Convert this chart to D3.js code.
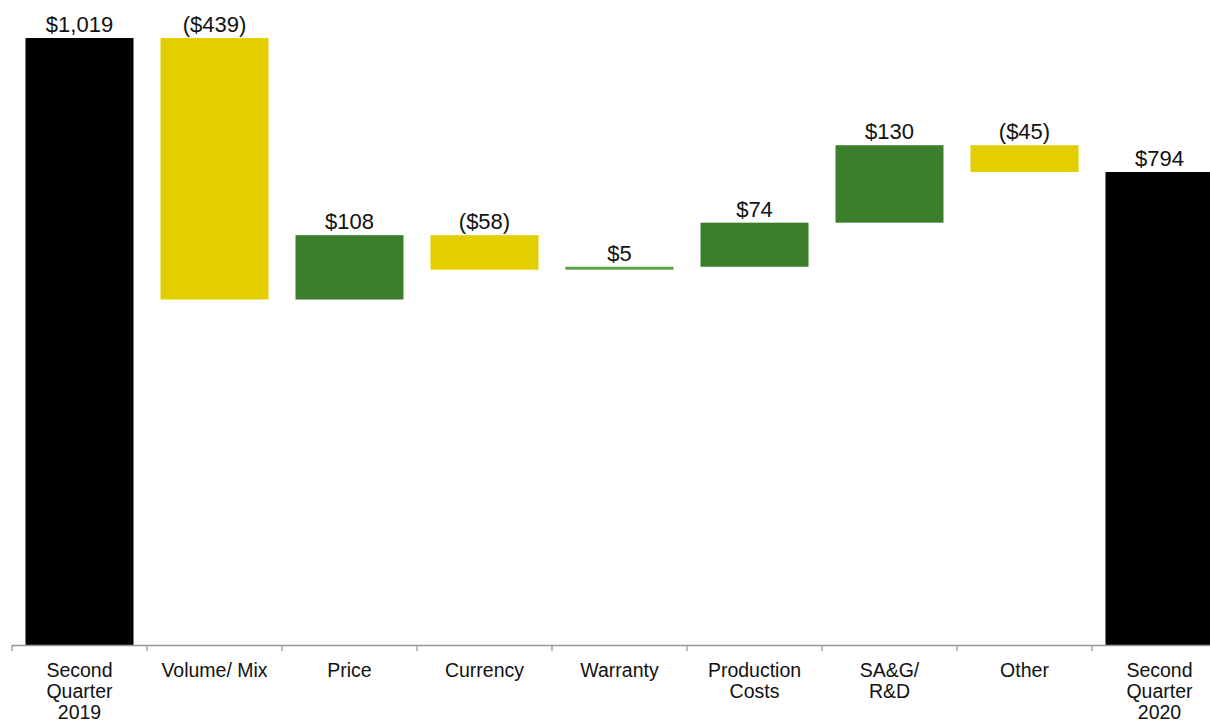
<!DOCTYPE html>
<html lang="en">
<head>
	<meta charset="UTF-8">
	<title>Waterfall</title>
	<script src="https://d3js.org/d3.v7.min.js"></script>
	<style>
		body { margin: 0; background: #fff; }
		svg { display: block; font-family: "Liberation Sans", Arial, sans-serif; }
	</style>
</head>
<body>
	<svg width="1210" height="723"></svg>
	<script>
		// data
		const categories = [
			["Second", "Quarter", "2019"],
			["Volume/ Mix"],
			["Price"],
			["Currency"],
			["Warranty"],
			["Production", "Costs"],
			["SA&G/", "R&D"],
			["Other"],
			["Second", "Quarter", "2020"]
		];
		const changes = [1019, -439, 108, -58, 5, 74, 130, -45, 794];
		const barTypes = ["total", "delta", "delta", "delta", "delta", "delta", "delta", "delta", "total"];
		const valueLabels = ["$1,019", "($439)", "$108", "($58)", "$5", "$74", "$130", "($45)", "$794"];

		const svg = d3.select("svg");
		const baseY = 645;

		// running totals -> start / end of each bar
		let running = 0;
		const bars = changes.map((v, i) => {
			let start, end;
			if (barTypes[i] == "total") {
				start = 0; end = v; running = v;
			} else {
				start = running; end = running + v; running = end;
			}
			return { i, v, start, end, type: barTypes[i], label: valueLabels[i], cat: categories[i] };
		});

		const xScale = d3.scaleBand()
			.domain(d3.range(categories.length))
			.range([12, 1227])
			.paddingInner(0.2)
			.paddingOuter(0.1);

		const yScale = d3.scaleLinear()
			.domain([0, 1019])
			.range([baseY, 38]);

		const color = d => {
			if (d.type == "total") return "#000000";
			return d.v < 0 ? "#E3CF00" : "#3B7E2C";
		};

		svg.selectAll("rect.bar")
			.data(bars)
			.enter().append("rect")
			.attr("class", "bar")
			.attr("x", d => xScale(d.i))
			.attr("width", xScale.bandwidth())
			.attr("y", d => yScale(Math.max(d.start, d.end)))
			.attr("height", d => Math.abs(yScale(d.start) - yScale(d.end)))
			.attr("fill", d => d.i == 4 ? "#5fa04a" : color(d));

		svg.selectAll("text.val")
			.data(bars)
			.enter().append("text")
			.attr("class", "val")
			.attr("x", d => xScale(d.i) + xScale.bandwidth() / 2)
			.attr("y", d => yScale(Math.max(d.start, d.end)) - 6)
			.attr("text-anchor", "middle")
			.attr("fill", "#111")
			.style("font-size", "22px")
			.text(d => d.label);

		// axis
		const step = xScale.step();
		svg.append("line")
			.attr("x1", 12).attr("x2", 1210)
			.attr("y1", baseY + 0.5).attr("y2", baseY + 0.5)
			.attr("stroke", "#999").attr("stroke-width", 1.3);

		svg.selectAll("line.tick")
			.data(bars)
			.enter().append("line")
			.attr("class", "tick")
			.attr("x1", d => xScale(d.i) - step * 0.1)
			.attr("x2", d => xScale(d.i) - step * 0.1)
			.attr("y1", baseY).attr("y2", baseY + 6)
			.attr("stroke", "#999").attr("stroke-width", 1.3);

		const catText = svg.selectAll("text.cat")
			.data(bars)
			.enter().append("text")
			.attr("class", "cat")
			.attr("text-anchor", "middle")
			.attr("fill", "#111")
			.style("font-size", "19.5px");

		catText.selectAll("tspan")
			.data(d => d.cat.map((c, k) => ({ c, k, x: xScale(d.i) + xScale.bandwidth() / 2 })))
			.enter().append("tspan")
			.attr("x", d => d.x)
			.attr("y", d => 677 + d.k * 21)
			.text(d => d.c);
	</script>
</body>
</html>
